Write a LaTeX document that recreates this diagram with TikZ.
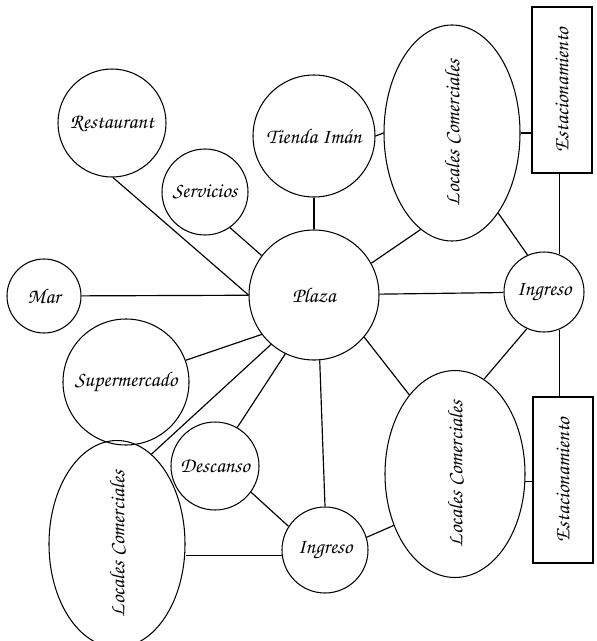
\documentclass[tikz,border=0pt]{standalone}
\usepackage[T1,TU]{fontenc}
\usepackage{tikz}
\usetikzlibrary{shapes.geometric, positioning}
\newcommand{\hand}{\fontencoding{T1}\fontfamily{pzc}\fontseries{mb}\fontshape{it}\fontsize{18}{20}\selectfont}

\begin{document}
\begin{tikzpicture}[x=0.03cm, y=-0.03cm,
  place/.style={circle, draw, line width=0.9pt, inner sep=0pt, font=\hand},
  zone/.style={ellipse, draw, line width=0.9pt, inner sep=0pt, font=\hand},
  park/.style={rectangle, draw, line width=0.9pt, inner sep=0pt, minimum width=1.8cm, minimum height=4.98cm, font=\hand},
  line/.style={draw, line width=1pt}]
  \useasboundingbox (0,0) rectangle (597,641);

  % circulos
  \node [place, minimum size=3.9cm] (plaza) at (314,295) {Plaza};
  \node [place, minimum size=3.24cm] (rest) at (112,123) {Restaurant};
  \node [place, minimum size=2.58cm] (serv) at (205,192) {Servicios};
  \node [place, minimum size=3.66cm] (tienda) at (314,136) {Tienda Im\'an};
  \node [place, minimum size=2.22cm] (mar) at (44,296) {Mar};
  \node [place, minimum size=3.78cm] (super) at (126,382) {Supermercado};
  \node [place, minimum size=2.64cm] (desc) at (215,466) {Descanso};
  \node [place, minimum size=2.4cm] (ingA) at (544,292) {Ingreso};
  \node [place, minimum size=2.58cm] (ingB) at (325,550) {Ingreso};

  % locales
  \node [zone, minimum width=4.08cm, minimum height=6.48cm] (locA) at (452,133) {\rotatebox{90}{Locales Comerciales}};
  \node [zone, minimum width=4.2cm, minimum height=5.76cm] (locB) at (455,474) {\rotatebox{90}{Locales Comerciales}};
  \node [zone, minimum width=4.08cm, minimum height=5.76cm] (locC) at (117,544) {\rotatebox{90}{Locales Comerciales}};

  % estacionamientos
  \node [park] (estA) at (562,90) {\rotatebox{90}{Estacionamiento}};
  \node [park] (estB) at (563,480) {\rotatebox{90}{Estacionamiento}};

  % conexiones
  \path [line] (rest.-89) -- (plaza.180);
  \path [line] (mar) -- (plaza);
  \path [line] (serv.-55) -- (plaza.143);
  \path [line] (tienda) -- (plaza);
  \path [line] (tienda.east) -- (locA.west);
  \path [line] (locA.-108) -- (plaza.29);
  \path [line] (locA.-60) -- (ingA.114);
  \path [line] (locA.east) -- (locA.east -| estA.west);
  \path [line] (ingA.68) -- (ingA.68 |- estA.south);
  \path [line] (plaza) -- (ingA);
  \path [line] (plaza.-40) -- (locB.120);
  \path [line] (ingA.-115) -- (locB.73);
  \path [line] (ingA.-68) -- (ingA.-68 |- estB.north);
  \path [line] (locB.-6) -- (locB.-6 -| estB.west);
  \path [line] (plaza.-85) -- (ingB.north);
  \path [line] (ingB.17) -- (locB.-140);
  \path [line] (plaza.-143) -- (super.20);
  \path [line] (plaza.-131) -- (locC.69);
  \path [line] (plaza.-116) -- (desc.60);
  \path [line] (desc.-36) -- (ingB.147);
  \path [line] (ingB.187) -- (ingB.187 -| locC.east);

\end{tikzpicture}
\end{document}
